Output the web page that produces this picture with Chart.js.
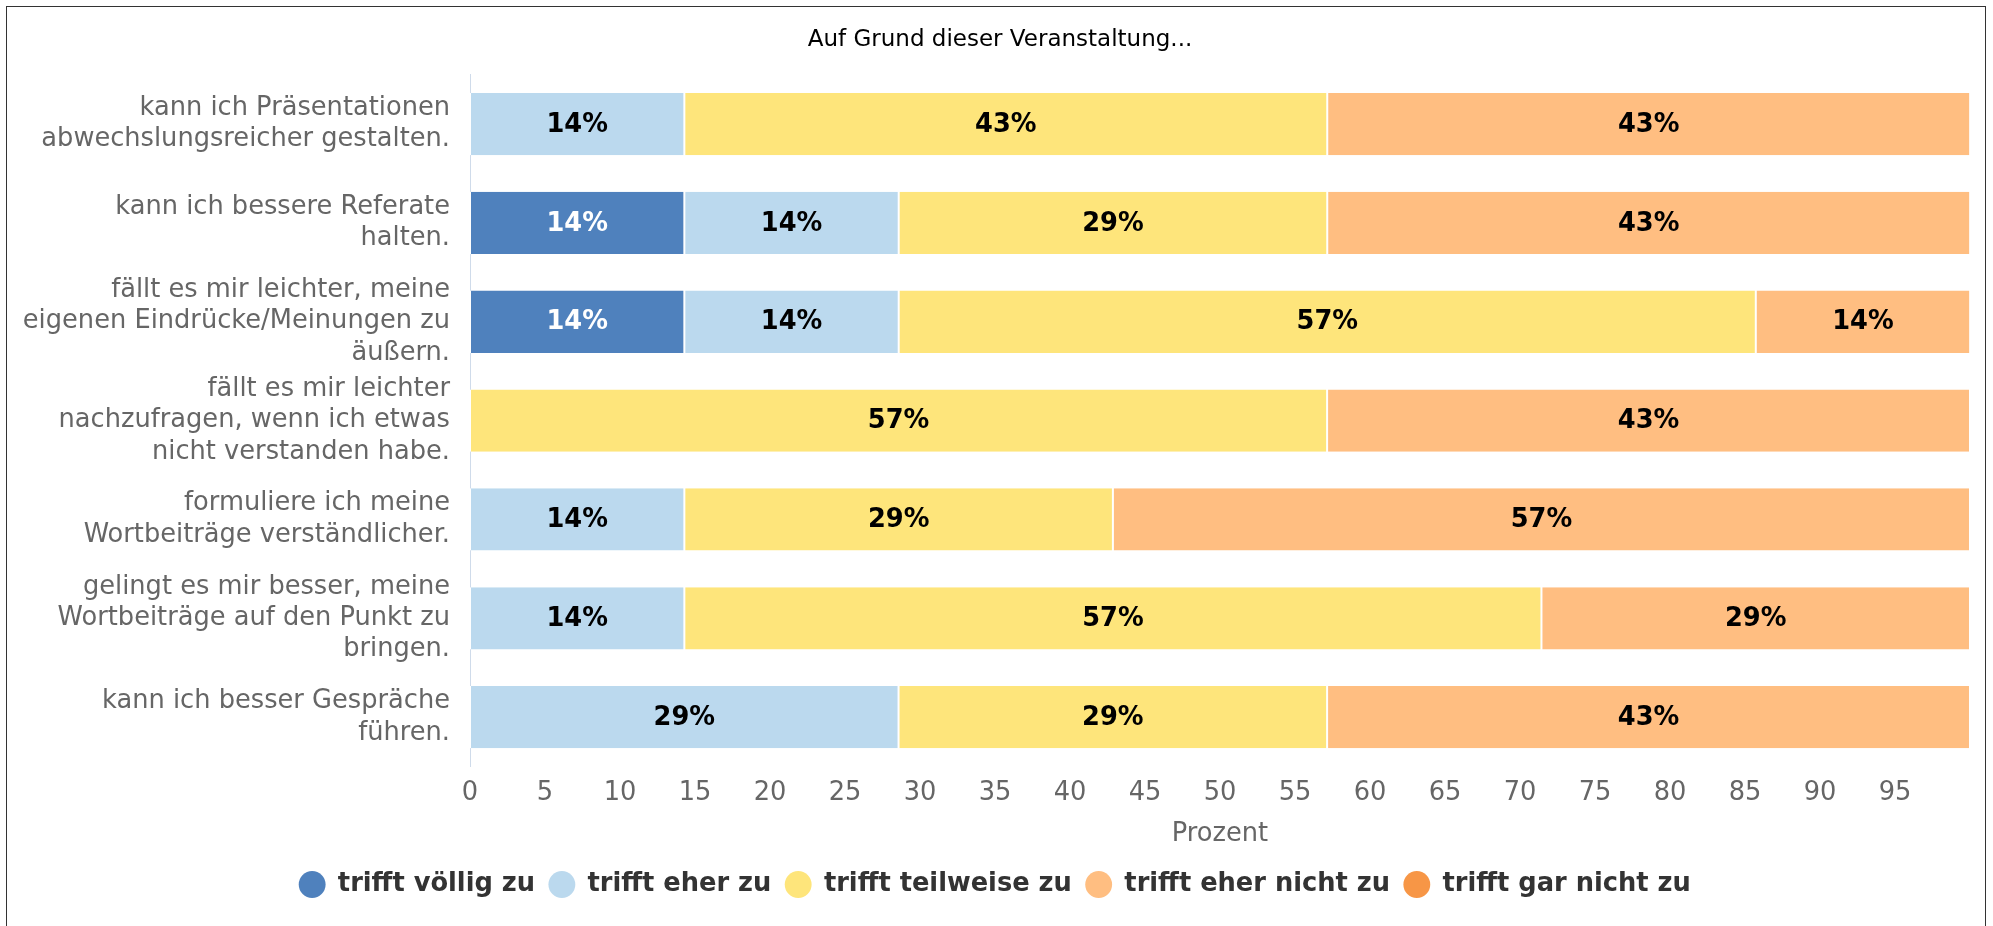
<!DOCTYPE html>
<html lang="de">
<head>
<meta charset="utf-8">
<title>Auf Grund dieser Veranstaltung...</title>
<script src="https://cdn.jsdelivr.net/npm/chart.js@4.4.1/dist/chart.umd.min.js"></script>
<style>
  html, body { margin: 0; padding: 0; background: #fff; overflow: hidden; }
  #box { position: relative; width: 1993px; height: 926px; }
  #frame {
    position: absolute; left: 6px; top: 6px; width: 1980px; height: 980px;
    border: 1px solid #333; box-sizing: border-box; pointer-events: none;
  }
</style>
</head>
<body>
<div id="box">
  <canvas id="surveyChart"></canvas>
  <div id="frame"></div>
</div>
<script>
const statements = [
  ["kann ich Präsentationen", "abwechslungsreicher gestalten."],
  ["kann ich bessere Referate", "halten."],
  ["fällt es mir leichter, meine", "eigenen Eindrücke/Meinungen zu", "äußern."],
  ["fällt es mir leichter", "nachzufragen, wenn ich etwas", "nicht verstanden habe."],
  ["formuliere ich meine", "Wortbeiträge verständlicher."],
  ["gelingt es mir besser, meine", "Wortbeiträge auf den Punkt zu", "bringen."],
  ["kann ich besser Gespräche", "führen."],
];

const answers = [
  "trifft völlig zu",
  "trifft eher zu",
  "trifft teilweise zu",
  "trifft eher nicht zu",
  "trifft gar nicht zu",
];

// Prozentwerte je Aussage
const voelligZu = [0, 14.29, 14.29, 0, 0, 0, 0];
const eherZu = [14.29, 14.29, 14.29, 0, 14.29, 14.29, 28.57];
const teilweiseZu = [42.86, 28.57, 57.14, 57.14, 28.57, 57.14, 28.57];
const eherNichtZu = [42.86, 42.86, 14.29, 42.86, 57.14, 28.57, 42.86];
const garNichtZu = [0, 0, 0, 0, 0, 0, 0];

const xTickValues = [0, 5, 10, 15, 20, 25, 30, 35, 40, 45, 50, 55, 60, 65, 70, 75, 80, 85, 90, 95];

const colors = ["#4f81bd", "#bbd9ee", "#fee57b", "#ffbe81", "#f79646"];
const labelColors = ["#fff", "#000", "#000", "#000", "#000"];

const FONT = "'DejaVu Sans', sans-serif";
const TEXT_SIZE = 25.7;
Chart.defaults.font.family = FONT;

const barValueLabels = {
  id: "barValueLabels",
  afterDatasetsDraw(chart) {
    const { ctx } = chart;
    ctx.save();
    ctx.font = "bold " + TEXT_SIZE + "px " + FONT;
    ctx.textAlign = "center";
    ctx.textBaseline = "middle";
    chart.data.datasets.forEach((dataset, i) => {
      const meta = chart.getDatasetMeta(i);
      if (meta.hidden) return;
      meta.data.forEach((bar, j) => {
        const value = dataset.data[j];
        if (!value) return;
        const { x, y, base } = bar.getProps(["x", "y", "base"], true);
        ctx.fillStyle = labelColors[i];
        ctx.fillText(Math.round(value) + "%", (x + base) / 2, y + 1);
      });
    });
    ctx.restore();
  },
};

// Titel etwas nach rechts, wie im Original mittig über dem Rahmen
const titleShift = {
  id: "titleShift",
  afterLayout(chart) {
    if (chart.titleBlock) chart.titleBlock.left += 10;
  },
};

const makeDataset = (label, data, index) => ({
  label,
  data,
  backgroundColor: colors[index],
  borderColor: "#fff",
  borderWidth: { top: 0, bottom: 0, left: 1, right: 1 },
  borderSkipped: false,
  barPercentage: 0.63,
  categoryPercentage: 1,
});

const ctx = document.getElementById("surveyChart").getContext("2d");

new Chart(ctx, {
  type: "bar",
  data: {
    labels: statements,
    datasets: [
      makeDataset(answers[0], voelligZu, 0),
      makeDataset(answers[1], eherZu, 1),
      makeDataset(answers[2], teilweiseZu, 2),
      makeDataset(answers[3], eherNichtZu, 3),
      makeDataset(answers[4], garNichtZu, 4),
    ],
  },
  options: {
    indexAxis: "y",
    responsive: true,
    maintainAspectRatio: false,
    animation: false,
    layout: { padding: { top: 14, right: 23, bottom: 18.6, left: 20 } },
    scales: {
      x: {
        stacked: true,
        min: 0,
        max: 100,
        grid: { display: false },
        border: { display: false },
        afterBuildTicks: (scale) => {
          scale.ticks = xTickValues.map((value) => ({ value }));
        },
        ticks: {
          color: "#666",
          font: { size: TEXT_SIZE },
          padding: 3.6,
          autoSkip: false,
          maxRotation: 0,
        },
        title: {
          display: true,
          text: "Prozent",
          color: "#666",
          font: { size: TEXT_SIZE },
          padding: { top: 6.6, bottom: 7.6 },
        },
      },
      y: {
        stacked: true,
        grid: { display: false, drawTicks: false },
        border: { display: true, color: "#cfdbea", width: 1 },
        afterFit: (scale) => {
          scale.width = 450;
        },
        ticks: {
          color: "#666",
          font: { size: TEXT_SIZE, lineHeight: 1.22 },
          padding: 20,
          autoSkip: false,
        },
      },
    },
    plugins: {
      title: {
        display: true,
        text: "Auf Grund dieser Veranstaltung...",
        color: "#000",
        font: { size: 23, weight: "normal" },
        padding: { top: 12.5, bottom: 20.5 },
      },
      legend: {
        position: "bottom",
        labels: {
          usePointStyle: true,
          pointStyle: "circle",
          boxHeight: 19,
          padding: 14,
          color: "#333",
          font: { size: TEXT_SIZE, weight: "bold" },
          generateLabels: (chart) =>
            Chart.defaults.plugins.legend.labels
              .generateLabels(chart)
              .map((item) => ({ ...item, lineWidth: 0, strokeStyle: item.fillStyle })),
        },
      },
      tooltip: { enabled: false },
    },
  },
  plugins: [barValueLabels, titleShift],
});
</script>
</body>
</html>
